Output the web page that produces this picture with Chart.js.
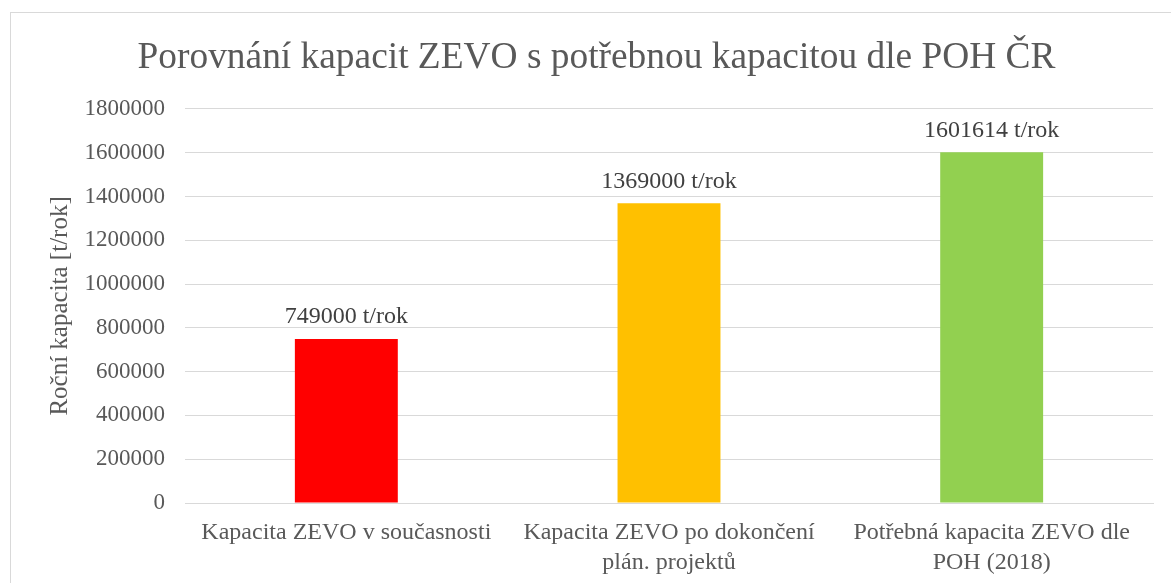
<!DOCTYPE html>
<html>
<head>
<meta charset="utf-8">
<script src="https://cdn.jsdelivr.net/npm/chart.js"></script>
<style>
    body { margin: 0; background: #fff; }
    #frame { position: absolute; left: 10px; top: 12px; width: 1200px; height: 620px; border: 1px solid #d9d9d9; }
    #wrap { position: absolute; left: 0; top: 0; width: 1171px; height: 583px; }
</style>
</head>
<body>
<div id="frame"></div>
<div id="wrap"><canvas id="zevoChart" width="1171" height="583"></canvas></div>
<script>
    // data
    var categories = [
        'Kapacita ZEVO v současnosti',
        ['Kapacita ZEVO po dokončení', 'plán. projektů'],
        ['Potřebná kapacita ZEVO dle', 'POH (2018)']
    ];
    var capacities = [749000, 1369000, 1601614];
    var barColors = ['#ff0000', '#ffc000', '#92d050'];
    var unit = ' t/rok';

    var serif = "'Liberation Serif', 'Times New Roman', serif";

    // simple value labels above the bars
    var barLabels = {
        id: 'barLabels',
        afterDatasetsDraw: function (chart) {
            var ctx = chart.ctx;
            var meta = chart.getDatasetMeta(0);
            ctx.save();
            ctx.font = '24px ' + serif;
            ctx.fillStyle = '#404040';
            ctx.textAlign = 'center';
            ctx.textBaseline = 'middle';
            meta.data.forEach(function (bar, i) {
                ctx.fillText(capacities[i] + unit, bar.x, bar.y - 22);
            });
            ctx.restore();
        }
    };

    var ctx = document.getElementById('zevoChart').getContext('2d');
    var chart = new Chart(ctx, {
        type: 'bar',
        data: {
            labels: categories,
            datasets: [{
                data: capacities,
                backgroundColor: barColors,
                barPercentage: 0.319,
                categoryPercentage: 1
            }]
        },
        plugins: [barLabels],
        options: {
            responsive: false,
            animation: false,
            layout: { padding: { left: 40, right: 18, top: 0, bottom: 0 } },
            plugins: {
                legend: { display: false },
                tooltip: { enabled: false },
                title: {
                    display: true,
                    text: 'Porovnání kapacit ZEVO s potřebnou kapacitou dle POH ČR',
                    color: '#595959',
                    font: { family: serif, size: 37.4, weight: 'normal', lineHeight: 1.2 },
                    padding: { top: 36, bottom: 28 }
                }
            },
            scales: {
                x: {
                    grid: { display: false },
                    border: { color: '#d9d9d9' },
                    ticks: {
                        color: '#595959',
                        font: { family: serif, size: 24, lineHeight: 1.25 },
                        padding: 7,
                        maxRotation: 0,
                        autoSkip: false
                    },
                    afterFit: function (scale) { scale.height = 80; }
                },
                y: {
                    min: 0,
                    max: 1800000,
                    grid: { color: '#d9d9d9', drawTicks: false },
                    border: { display: false },
                    ticks: {
                        stepSize: 200000,
                        color: '#595959',
                        font: { family: serif, size: 23 },
                        padding: 20,
                        callback: function (v) { return String(v); }
                    },
                    title: {
                        display: true,
                        text: 'Roční kapacita [t/rok]',
                        color: '#595959',
                        font: { family: serif, size: 25, weight: 'normal', lineHeight: 1.2 },
                        padding: { top: 5, bottom: 0 }
                    },
                    afterFit: function (scale) { scale.width = 145; }
                }
            }
        }
    });
</script>
</body>
</html>
